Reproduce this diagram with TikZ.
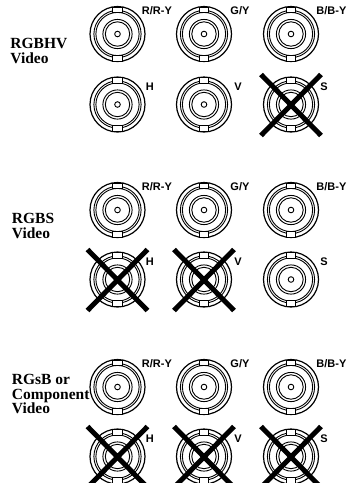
\documentclass[tikz,border=0pt]{standalone}
\usepackage{fontspec}
\setsansfont{Liberation Sans}
\newfontfamily\groupfont{Liberation Serif}
\usepackage{xcolor}
\usepackage{tikz}

\tikzset{
	pics/bnc/.style = {code = {
		\draw[line width = 1.2pt] (0, 0) circle [radius = 27.5];
		\draw (0, 0) circle [radius = 23.6];
		\draw (0, 0) circle [radius = 21.6];
		\draw (0, 0) circle [radius = 14.6];
		\draw (0, 0) circle [radius = 12.2];
		\draw (0, 0) circle [radius = 2.8];
		\draw[fill = white] (-4.6, -27) rectangle (4.6, -21.2);
		\draw[fill = white] (-4.6, 27) rectangle (4.6, 21.2);
	}},
	portlbl/.style = {anchor = base west, inner sep = 0pt, font = \sffamily\bfseries\fontsize{11}{12}\selectfont},
	grouplbl/.style = {anchor = base west, inner sep = 0pt, align = left, font = \groupfont\bfseries\fontsize{15.5}{14.5}\selectfont},
	nogo/.style = {line width = 5pt, color = black}
}

\begin{document}
\begin{tikzpicture}[x = 1pt, y = -1pt, line width = 0.9pt]
					\useasboundingbox (0, 0) rectangle (350, 483);

					% connector centres
					\coordinate (hvR) at (117.5, 34);
					\coordinate (hvG) at (204, 34);
					\coordinate (hvB) at (291, 34);
					\coordinate (hvH) at (117.5, 104.5);
					\coordinate (hvV) at (204, 104.5);
					\coordinate (hvS) at (291, 104.5);

					\coordinate (bsR) at (117.5, 210);
					\coordinate (bsG) at (204, 210);
					\coordinate (bsB) at (291, 210);
					\coordinate (bsH) at (117.5, 279.5);
					\coordinate (bsV) at (204, 279.5);
					\coordinate (bsS) at (291, 279.5);

					\coordinate (sgR) at (117.5, 387);
					\coordinate (sgG) at (204, 387);
					\coordinate (sgB) at (291, 387);
					\coordinate (sgH) at (117.5, 456.5);
					\coordinate (sgV) at (204, 456.5);
					\coordinate (sgS) at (291, 456.5);

					% group names
					\node[grouplbl] (hvName) at (10, 63.3) {RGBHV\\Video};
					\node[grouplbl] (bsName) at (11.5, 238.3) {RGBS\\Video};
					\node[grouplbl] (sgName) at (11.5, 413.5) {RGsB or\\Component\\Video};

					\pic at (hvR) {bnc};
					\pic at (hvG) {bnc};
					\pic at (hvB) {bnc};
					\pic at (hvH) {bnc};
					\pic at (hvV) {bnc};
					\pic at (hvS) {bnc};
					\pic at (bsR) {bnc};
					\pic at (bsG) {bnc};
					\pic at (bsB) {bnc};
					\pic at (bsH) {bnc};
					\pic at (bsV) {bnc};
					\pic at (bsS) {bnc};
					\pic at (sgR) {bnc};
					\pic at (sgG) {bnc};
					\pic at (sgB) {bnc};
					\pic at (sgH) {bnc};
					\pic at (sgV) {bnc};
					\pic at (sgS) {bnc};

					% port names
					\node[portlbl] (hvRlbl) at ([shift = {(24, -20)}]hvR) {R/R-Y};
					\node[portlbl] (hvGlbl) at ([shift = {(26, -20)}]hvG) {G/Y};
					\node[portlbl] (hvBlbl) at ([shift = {(25, -20)}]hvB) {B/B-Y};
					\node[portlbl] (hvHlbl) at ([shift = {(28, -14.5)}]hvH) {H};
					\node[portlbl] (hvVlbl) at ([shift = {(30, -14.5)}]hvV) {V};
					\node[portlbl] (hvSlbl) at ([shift = {(29, -14.5)}]hvS) {S};
					\node[portlbl] (bsRlbl) at ([shift = {(24, -20)}]bsR) {R/R-Y};
					\node[portlbl] (bsGlbl) at ([shift = {(26, -20)}]bsG) {G/Y};
					\node[portlbl] (bsBlbl) at ([shift = {(25, -20)}]bsB) {B/B-Y};
					\node[portlbl] (bsHlbl) at ([shift = {(28, -14.5)}]bsH) {H};
					\node[portlbl] (bsVlbl) at ([shift = {(30, -14.5)}]bsV) {V};
					\node[portlbl] (bsSlbl) at ([shift = {(29, -14.5)}]bsS) {S};
					\node[portlbl] (sgRlbl) at ([shift = {(24, -20)}]sgR) {R/R-Y};
					\node[portlbl] (sgGlbl) at ([shift = {(26, -20)}]sgG) {G/Y};
					\node[portlbl] (sgBlbl) at ([shift = {(25, -20)}]sgB) {B/B-Y};
					\node[portlbl] (sgHlbl) at ([shift = {(28, -14.5)}]sgH) {H};
					\node[portlbl] (sgVlbl) at ([shift = {(30, -14.5)}]sgV) {V};
					\node[portlbl] (sgSlbl) at ([shift = {(29, -14.5)}]sgS) {S};

					% unused inputs crossed out
					\draw[nogo] ([shift = {(-30, -30)}]hvS) -- ([shift = {(30, 31)}]hvS);
					\draw[nogo] ([shift = {(30, -30)}]hvS) -- ([shift = {(-30, 31)}]hvS);
					\draw[nogo] ([shift = {(-30, -30)}]bsH) -- ([shift = {(30, 31)}]bsH);
					\draw[nogo] ([shift = {(30, -30)}]bsH) -- ([shift = {(-30, 31)}]bsH);
					\draw[nogo] ([shift = {(-30, -30)}]bsV) -- ([shift = {(30, 31)}]bsV);
					\draw[nogo] ([shift = {(30, -30)}]bsV) -- ([shift = {(-30, 31)}]bsV);
					\draw[nogo] ([shift = {(-30, -30)}]sgH) -- ([shift = {(30, 31)}]sgH);
					\draw[nogo] ([shift = {(30, -30)}]sgH) -- ([shift = {(-30, 31)}]sgH);
					\draw[nogo] ([shift = {(-30, -30)}]sgV) -- ([shift = {(30, 31)}]sgV);
					\draw[nogo] ([shift = {(30, -30)}]sgV) -- ([shift = {(-30, 31)}]sgV);
					\draw[nogo] ([shift = {(-30, -30)}]sgS) -- ([shift = {(30, 31)}]sgS);
					\draw[nogo] ([shift = {(30, -30)}]sgS) -- ([shift = {(-30, 31)}]sgS);
				\end{tikzpicture}
\end{document}
